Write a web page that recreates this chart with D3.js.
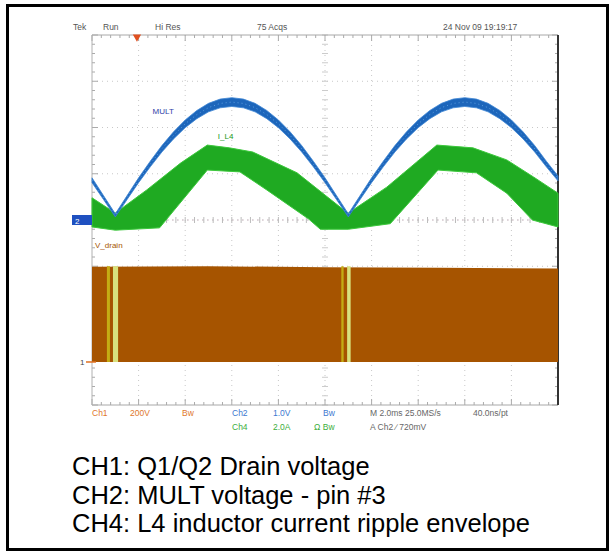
<!DOCTYPE html>
<html>
<head>
<meta charset="utf-8">
<script src="https://cdn.jsdelivr.net/npm/d3@7"></script>
<style>
body { margin:0; background:#fff; }
svg text { font-family: "Liberation Sans", Arial, sans-serif; }
</style>
</head>
<body>
<div id="scope"></div>
<script>
// values: time in ms, traces in screen divisions
var multT   = [0, 0.5, 1, 1.5, 2, 2.5, 3, 3.5, 4, 4.5, 5, 5.5, 6, 6.5, 7, 7.5, 8, 8.5, 9, 9.5, 10,
               10.5, 11, 11.5, 12, 12.5, 13, 13.5, 14, 14.5, 15, 15.5, 16, 16.5, 17, 17.5, 18, 18.5, 19, 19.5, 20];
var multDiv = [0.86, 0.48, 0.10, 0.48, 0.86, 1.21, 1.54, 1.83, 2.08, 2.28, 2.43, 2.52, 2.55, 2.52, 2.43, 2.28, 2.08, 1.83, 1.54, 1.21, 0.86,
               0.48, 0.10, 0.48, 0.86, 1.21, 1.54, 1.83, 2.08, 2.28, 2.43, 2.52, 2.55, 2.52, 2.43, 2.28, 2.08, 1.83, 1.54, 1.21, 0.90];

var l4UpperT = [0, 1, 2.35, 3.8, 4.95, 5.9, 6.9, 8.8, 10.65, 11, 12.65, 14.8, 16.35, 17.8, 18.95, 20];
var l4Upper  = [0.48, 0.15, 0.65, 1.23, 1.62, 1.56, 1.47, 1.02, 0.28, 0.15, 0.71, 1.62, 1.56, 1.30, 0.93, 0.58];
var l4LowerT = [0, 1, 2.9, 4.95, 6.35, 7.5, 9.3, 9.8, 11, 12.8, 14.85, 16.5, 17.8, 18.9, 20];
var l4Lower  = [-0.15, -0.22, -0.17, 1.08, 1.04, 0.65, 0.02, -0.2, -0.2, -0.08, 1.08, 1.02, 0.58, 0.0, -0.15];

// drain voltage envelope in volts (200 V/div)
var drainT   = [0, 5, 10, 15, 20];
var drainTop = [412, 414, 410, 408, 404];
// zero crossing stripes (ms)
var stripeStart = [0.64, 0.9, 10.7, 10.95];
var stripeEnd   = [0.77, 1.12, 10.8, 11.1];

var headerText = ["Tek", "Run", "Hi Res", "75 Acqs", "24 Nov 09 19:19:17"];
var row1Text = ["Ch1", "200V", "Bw", "Ch2", "1.0V", "Bw", "M 2.0ms 25.0MS/s", "40.0ns/pt"];
var row2Text = ["Ch4", "2.0A", "\u03a9 Bw", "A  Ch2  \u2215  720mV"];
var captions = ["CH1: Q1/Q2 Drain voltage", "CH2: MULT voltage - pin #3", "CH4: L4 inductor current ripple envelope"];

var width = 610, height = 552;
var plot = {left: 92, right: 558, top: 35, bottom: 405};
var ch1Volts = 200, ch1Pos = -3.07;

var svg = d3.select("#scope").append("svg")
    .attr("width", width)
    .attr("height", height);

// outer frame
svg.append("rect")
    .attr("x", 7.5).attr("y", 5.5)
    .attr("width", 600).attr("height", 544)
    .attr("fill", "none")
    .attr("stroke", "#000")
    .attr("stroke-width", 3);

var x = d3.scaleLinear().domain([0, 20]).range([plot.left, plot.right]);
var y = d3.scaleLinear().domain([-4, 4]).range([plot.bottom, plot.top]);

// graticule
var grid = svg.append("g").attr("class", "grid");
grid.selectAll(".vgrid")
    .data(d3.range(2, 20, 2))
    .enter().append("line")
    .attr("x1", d => x(d)).attr("x2", d => x(d))
    .attr("y1", plot.top).attr("y2", plot.bottom)
    .attr("stroke", "#c8c8c8")
    .attr("stroke-dasharray", "1,4");
grid.selectAll(".hgrid")
    .data(d3.range(-3, 4, 1))
    .enter().append("line")
    .attr("y1", d => y(d)).attr("y2", d => y(d))
    .attr("x1", plot.left).attr("x2", plot.right)
    .attr("stroke", "#c8c8c8")
    .attr("stroke-dasharray", "1,4");

var xMinor = d3.range(0, 20.01, 0.4);
var yMinor = d3.range(-4, 4.01, 0.2);

// center cross ticks
grid.append("line")
    .attr("x1", plot.left).attr("x2", plot.right)
    .attr("y1", y(0)).attr("y2", y(0))
    .attr("stroke", "#d8c8d0").attr("stroke-dasharray", "2,3");
grid.selectAll(".cxt")
    .data(xMinor).enter().append("line")
    .attr("x1", d => x(d)).attr("x2", d => x(d))
    .attr("y1", y(0) - 3).attr("y2", y(0) + 3)
    .attr("stroke", "#bbb");
grid.selectAll(".cyt")
    .data(yMinor).enter().append("line")
    .attr("x1", x(10) - 3).attr("x2", x(10) + 3)
    .attr("y1", d => y(d)).attr("y2", d => y(d))
    .attr("stroke", "#ccc");

// edge ticks
grid.selectAll(".topt")
    .data(xMinor).enter().append("line")
    .attr("x1", d => x(d)).attr("x2", d => x(d))
    .attr("y1", plot.top).attr("y2", (d, i) => plot.top + (i % 5 == 0 ? 6 : 3))
    .attr("stroke", "#aaa");
grid.selectAll(".bott")
    .data(xMinor).enter().append("line")
    .attr("x1", d => x(d)).attr("x2", d => x(d))
    .attr("y1", plot.bottom).attr("y2", (d, i) => plot.bottom - (i % 5 == 0 ? 6 : 3))
    .attr("stroke", "#aaa");
grid.selectAll(".leftt")
    .data(yMinor).enter().append("line")
    .attr("x1", plot.left).attr("x2", (d, i) => plot.left + (i % 5 == 0 ? 6 : 3))
    .attr("y1", d => y(d)).attr("y2", d => y(d))
    .attr("stroke", "#aaa");
grid.selectAll(".rightt")
    .data(yMinor).enter().append("line")
    .attr("x1", plot.right).attr("x2", (d, i) => plot.right - (i % 5 == 0 ? 6 : 3))
    .attr("y1", d => y(d)).attr("y2", d => y(d))
    .attr("stroke", "#aaa");

grid.append("line")
    .attr("x1", plot.left).attr("x2", plot.right)
    .attr("y1", plot.top).attr("y2", plot.top)
    .attr("stroke", "#a8a8a8");
grid.append("line")
    .attr("x1", plot.left).attr("x2", plot.right)
    .attr("y1", plot.bottom).attr("y2", plot.bottom)
    .attr("stroke", "#a8a8a8");
grid.append("line")
    .attr("x1", plot.left).attr("x2", plot.left)
    .attr("y1", plot.top).attr("y2", plot.bottom)
    .attr("stroke", "#b0b0b0");
grid.append("line")
    .attr("x1", plot.right).attr("x2", plot.right)
    .attr("y1", plot.top).attr("y2", plot.bottom)
    .attr("stroke", "#333")
    .attr("stroke-width", 2);

// CH1 drain voltage block
var ch1Y = v => y(ch1Pos + v / ch1Volts);
var drainArea = d3.area()
    .x(d => x(d[0]))
    .y0(ch1Y(0))
    .y1(d => ch1Y(d[1]));
svg.append("path")
    .datum(drainT.map((t, i) => [t, drainTop[i]]))
    .attr("d", drainArea)
    .attr("fill", "#a65400");

var stripeColors = ["#c4ac14", "#d8e27e", "#c4ac14", "#d8e27e"];
svg.selectAll(".stripe")
    .data(stripeStart)
    .enter().append("rect")
    .attr("x", (d, i) => x(d))
    .attr("width", (d, i) => x(stripeEnd[i]) - x(d))
    .attr("y", ch1Y(d3.max(drainTop)))
    .attr("height", ch1Y(0) - ch1Y(d3.max(drainTop)))
    .attr("fill", (d, i) => stripeColors[i]);

// CH4 inductor current envelope
var upperPts = l4UpperT.map((t, i) => [t, l4Upper[i]]);
var lowerPts = l4LowerT.map((t, i) => [t, l4Lower[i]]).reverse();
var bandLine = d3.line().x(d => x(d[0])).y(d => y(d[1]));
svg.append("path")
    .attr("d", bandLine(upperPts.concat(lowerPts)) + "Z")
    .attr("fill", "#1faa22")
    .attr("stroke", "#3cc83c")
    .attr("stroke-width", 1);

// CH2 MULT - ripple band gets wider toward the crest
var multPts = multT.map((t, i) => [t, multDiv[i]]);
var peak = d3.max(multDiv);
var multBand = d3.area()
    .x(d => x(d[0]))
    .y0(d => y(d[1]) + 1.4 + 3 * d[1] / peak)
    .y1(d => y(d[1]) - 1.4 - 3 * d[1] / peak);
svg.append("path")
    .datum(multPts)
    .attr("d", multBand)
    .attr("fill", "#1d66bb")
    .attr("stroke", "#3f86d4")
    .attr("stroke-width", 0.8);
svg.append("path")
    .datum(multPts)
    .attr("d", d3.line().x(d => x(d[0])).y(d => y(d[1])))
    .attr("fill", "none")
    .attr("stroke", "#5b9ee0")
    .attr("stroke-width", 1)
    .attr("stroke-dasharray", "1,3");

// trace labels
svg.append("text").attr("x", x(2.6)).attr("y", y(2.3))
    .attr("font-size", 8).attr("fill", "#3040a8").text("MULT");
svg.append("text").attr("x", x(5.4)).attr("y", y(1.75))
    .attr("font-size", 8).attr("fill", "#1a9a1a").text("I_L4");
svg.append("text").attr("x", plot.left + 3).attr("y", y(-0.6))
    .attr("font-size", 8).attr("fill", "#a65400").text("V_drain");

// channel markers
svg.append("rect")
    .attr("x", 72).attr("y", y(0) - 5)
    .attr("width", plot.left - 72).attr("height", 10)
    .attr("fill", "#1f50c0");
svg.append("text").attr("x", 75).attr("y", y(0) + 3.5)
    .attr("font-size", 8).attr("fill", "#fff").text("2");
svg.append("text").attr("x", 80).attr("y", ch1Y(0) + 3)
    .attr("font-size", 8).attr("fill", "#444").text("1");
svg.append("line")
    .attr("x1", 86).attr("x2", plot.left + 4)
    .attr("y1", ch1Y(0)).attr("y2", ch1Y(0))
    .attr("stroke", "#e07020").attr("stroke-width", 1.5);
// trigger position
svg.append("path")
    .attr("d", d3.symbol().type(d3.symbolTriangle).size(30)())
    .attr("transform", `translate(${x(1.93)}, ${plot.top + 2}) rotate(180)`)
    .attr("fill", "#e05020");

// header readouts
var headerX = [73, 103, 155, 257, 443];
svg.selectAll(".hdr")
    .data(headerText)
    .enter().append("text")
    .attr("x", (d, i) => headerX[i])
    .attr("y", 30)
    .attr("font-size", 8.5)
    .attr("fill", "#555")
    .text(d => d);

var row1X = [92, 130, 182, 232, 273, 323, 370, 473];
var row1Col = ["#e0782c", "#e0782c", "#e0782c", "#3c78d0", "#3c78d0", "#3c78d0", "#666", "#666"];
svg.selectAll(".r1")
    .data(row1Text)
    .enter().append("text")
    .attr("x", (d, i) => row1X[i])
    .attr("y", 416)
    .attr("font-size", 8.5)
    .attr("fill", (d, i) => row1Col[i])
    .text(d => d);

var row2X = [232, 273, 314, 370];
var row2Col = ["#3cae3c", "#3cae3c", "#3cae3c", "#666"];
svg.selectAll(".r2")
    .data(row2Text)
    .enter().append("text")
    .attr("x", (d, i) => row2X[i])
    .attr("y", 430)
    .attr("font-size", 8.5)
    .attr("fill", (d, i) => row2Col[i])
    .text(d => d);

// caption
svg.selectAll(".cap")
    .data(captions)
    .enter().append("text")
    .attr("x", 72)
    .attr("y", (d, i) => 475 + i * 28.5)
    .attr("font-size", 25.5)
    .attr("fill", "#000")
    .text(d => d);
</script>
</body>
</html>
